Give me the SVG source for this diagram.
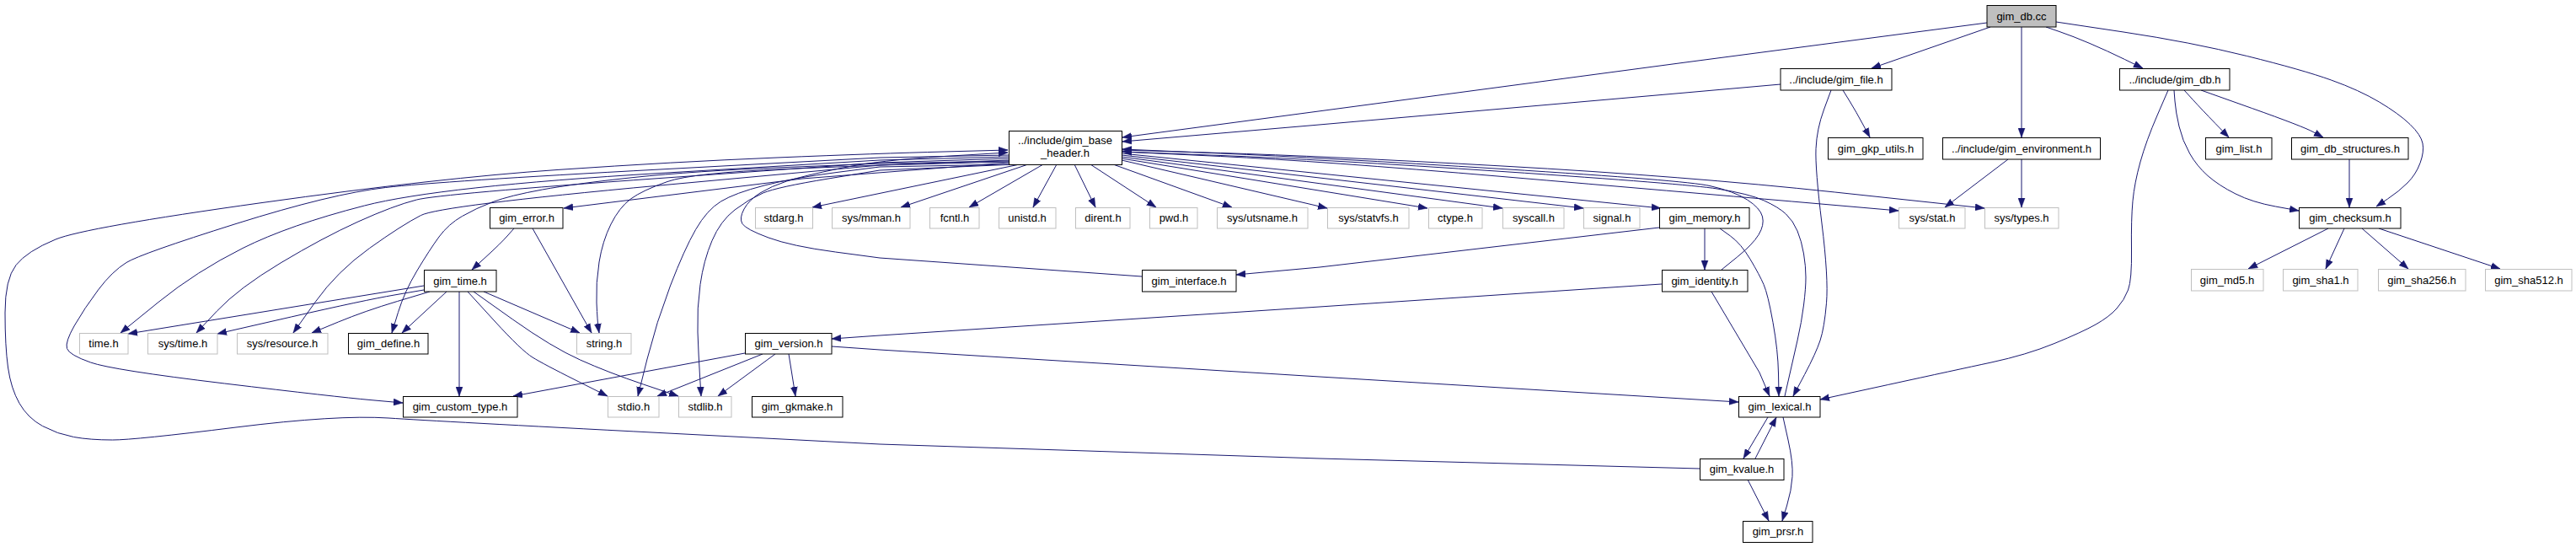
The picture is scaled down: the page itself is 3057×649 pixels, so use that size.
<svg xmlns="http://www.w3.org/2000/svg" width="3057" height="649" viewBox="0 0 3057 649">
<style>
.n rect{fill:#fff;stroke:#000;stroke-width:1}
.s rect{fill:#fff;stroke:#bfbfbf;stroke-width:1}
.r rect{fill:#bfbfbf;stroke:#000;stroke-width:1}
text{font-family:"Liberation Sans",Arial,sans-serif;font-size:13px;fill:#000;text-anchor:middle}
#edges path{fill:none;stroke:#191970;stroke-width:1;stroke-linejoin:round;marker-end:url(#ah)}
</style>
<defs>
<marker id="ah" markerUnits="userSpaceOnUse" markerWidth="12" markerHeight="9" refX="11" refY="4.5" orient="auto">
<path d="M0,0.5 L11,4.5 L0,8.5 z" fill="#191970" stroke="#191970" stroke-width="0.5"/>
</marker>
</defs>
<rect x="0" y="0" width="3057" height="649" fill="#fff"/>
<g id="edges">
<path d="M2358,27 L2000,74 L1332,163"/>
<path d="M2362,32 L2221,81"/>
<path d="M2399,32 L2399,163"/>
<path d="M2428,32 L2444,37.5 Q2460,43 2480,51.5 Q2500,60 2521.5,70.5 L2543,81"/>
<path d="M2440,26 L2520,38 Q2600,50 2666.5,66.5 Q2733,83 2766.5,95 Q2800,107 2823.5,121 Q2847,135 2860,147.5 Q2873,160 2875,170 Q2877,180 2872,193.5 Q2867,207 2857,217 Q2847,227 2833.5,236 L2820,245"/>
<path d="M2113,100 L2000,110 L1554,149 L1332,168"/>
<path d="M2187,107 L2195,120 Q2203,133 2211,148 L2219,163"/>
<path d="M2173,107 L2164.5,130 Q2156,153 2155,176.5 Q2154,200 2162,265 Q2170,330 2167.5,359.5 Q2165,389 2160,404 Q2155,419 2141.5,444.5 L2128,470"/>
<path d="M2383,189 L2308,246"/>
<path d="M2399,189 L2399,246"/>
<path d="M2592,107 L2602.5,118.5 Q2613,130 2629,146.5 L2645,163"/>
<path d="M2612,107 L2672.5,128.5 Q2733,150 2745,156.5 L2757,163"/>
<path d="M2580,107 L2581,120 Q2582,133 2586,150 Q2590,167 2598.5,182 Q2607,197 2620,208.5 Q2633,220 2653,230 Q2673,240 2700.5,245 L2728,250"/>
<path d="M2573,107 L2560,137 Q2547,167 2540,192 Q2533,217 2531,238.5 Q2529,260 2529.5,296 Q2530,332 2525.5,344 Q2521,356 2512,366 Q2503,376 2487,385 Q2471,394 2438,407.5 Q2405,421 2363,430 Q2321,439 2240.5,456.5 L2160,474"/>
<path d="M2788,189 L2788,246"/>
<path d="M2763,271 L2668,319"/>
<path d="M2782,271 L2760,319"/>
<path d="M2803,271 L2858,319"/>
<path d="M2823,271 L2967,319"/>
<path d="M1197,184 L1044,187 L783,201 Q522,215 457.5,222.5 Q393,230 280,265.5 Q167,301 150,311.5 Q133,322 116.5,344 Q100,366 88.5,386 Q77,406 79.5,413.5 Q82,421 107.5,430 Q133,439 266.5,455 Q400,471 439,474.5 L478,478"/>
<path d="M1197,186 L1044,190 L783,205.5 Q522,221 432.5,244 Q343,267 288,294.5 Q233,322 188,358.5 L143,395"/>
<path d="M1197,188 L1044,193 L783,211.5 Q522,230 494.5,237 Q467,244 425,263 Q383,282 333,312 Q283,342 258,368.5 L233,395"/>
<path d="M1197,190 L1044,196 L783,220 Q522,244 499.5,255.5 Q477,267 438.5,294.5 Q400,322 374,358.5 L348,395"/>
<path d="M1197,191 L1044,194 L933,198.5 Q822,203 752,210.5 Q682,218 643.5,225 Q605,232 585,239.5 Q565,247 548.5,256.5 Q532,266 521,281 Q510,296 495,321 Q480,346 472.5,370.5 L465,395"/>
<path d="M1197,193 L952,212 L669,247"/>
<path d="M1197,192 L1044,196 L933,200.5 Q822,205 792,215.5 Q762,226 748.5,236 Q735,246 725,266 Q715,286 711,311 Q707,336 708,359 Q709,382 710,388.5 L711,395"/>
<path d="M1198,195 L1044,198 L993,204.5 Q942,211 907,220 Q872,229 855.5,239 Q839,249 825.5,272.5 Q812,296 795.5,339 Q779,382 768,426 L757,470"/>
<path d="M1205,195 L1044,202 L983,212 Q922,222 905.5,229 Q889,236 872,249 Q855,262 845,285.5 Q835,309 831,337.5 Q827,366 828,394 Q829,422 830.5,446 L832,470"/>
<path d="M1210,195 L964,246"/>
<path d="M1220,195 L1069,246"/>
<path d="M1238,195 L1150,246"/>
<path d="M1254,195 L1226,246"/>
<path d="M1275,195 L1300,246"/>
<path d="M1294,195 L1372,246"/>
<path d="M1321,195 L1462,246"/>
<path d="M1331,190 L1575,247"/>
<path d="M1331,188 L1694,247"/>
<path d="M1331,186 L1783,247"/>
<path d="M1331,184 L1879,247"/>
<path d="M1331,182 L1971,247"/>
<path d="M1331,180 L1448.5,185.5 Q1566,191 1783,209.5 Q2000,228 2126.5,239 L2253,250"/>
<path d="M1331,178 L1448.5,181.5 Q1566,185 1783,197 Q2000,209 2177.5,228 L2355,247"/>
<path d="M2043,320 L2061.5,305 Q2080,290 2087,278.5 Q2094,267 2091.5,257 Q2089,247 2073.5,237 Q2058,227 2029,220.5 Q2000,214 1783,200.5 Q1566,187 1449,182 L1332,177"/>
<path d="M2118,470 L2128,426 L2133,404 Q2138,382 2140.5,362 Q2143,342 2143,329 Q2143,316 2140.5,301 Q2138,286 2133,274 Q2128,262 2119.5,254 Q2111,246 2093.5,238 Q2076,230 2038,224 Q2000,218 1783,203.5 Q1566,189 1449,184.5 L1332,180"/>
<path d="M2017,556 L1566,544 L1044,527 L783,513.5 Q522,500 461,496 Q400,492 280,507 Q160,522 133.5,522 Q107,522 87.5,518.5 Q68,515 50.5,505.5 Q33,496 23,478.5 Q13,461 9.5,436 Q6,411 6,371 Q6,331 19,314.5 Q32,298 66,284 Q100,270 311,240.5 Q522,211 661,201.5 Q800,192 922,187 Q1044,182 1120,180 L1196,178"/>
<path d="M1355,328 L1044,306 L991.5,299 Q939,292 912,282 Q885,272 881,265.5 Q877,259 883,248 Q889,237 902,229 Q915,221 933.5,215 Q952,209 998,199.5 Q1044,190 1120,185.5 L1196,181"/>
<path d="M610,271 L602,280 Q594,289 577,304.5 L560,320"/>
<path d="M632,271 L702,395"/>
<path d="M503,339 L152,396"/>
<path d="M503,344 L468,350 Q433,356 345.5,376 L258,396"/>
<path d="M510,346 L471.5,357.5 Q433,369 401.5,382 L370,395"/>
<path d="M530,346 L477,395"/>
<path d="M545,346 L545,470"/>
<path d="M574,346 L688,395"/>
<path d="M555,346 L587,381 Q619,416 632,424 Q645,432 683,451 L721,470"/>
<path d="M562,346 L608.5,379 Q655,412 688.5,427 Q722,442 763.5,456 L805,470"/>
<path d="M884,419 L609,470"/>
<path d="M905,420 L780,470"/>
<path d="M920,420 L852,470"/>
<path d="M936,420 L944,470"/>
<path d="M987,411 L1044,415 L1566,447 L2063,477"/>
<path d="M1972,337 L1566,364 L1044,398 L987,402"/>
<path d="M1969,270 L1566,317 L1467,326"/>
<path d="M2023,271 L2023,320"/>
<path d="M2041,271 L2053.5,280 Q2066,289 2077,307.5 Q2088,326 2093,337.5 Q2098,349 2104,382.5 Q2110,416 2110.5,443 L2111,470"/>
<path d="M2031,346 L2088,442 L2100,470"/>
<path d="M2098,495 L2069,544"/>
<path d="M2083,544 L2108,495"/>
<path d="M2116,495 L2122,522 Q2128,549 2127,565.5 Q2126,582 2120.5,600 L2115,618"/>
<path d="M2074,569 L2099,618"/>
</g>
<g id="gim_db_cc" class="r"><rect x="2358" y="6.5" width="82" height="25.5"/><text x="2399" y="24">gim_db.cc</text></g>
<g id="gim_file_h" class="n"><rect x="2113" y="81.5" width="132" height="25.5"/><text x="2179" y="99">../include/gim_file.h</text></g>
<g id="gim_db_h" class="n"><rect x="2515.5" y="81.5" width="130.5" height="25.5"/><text x="2581" y="99">../include/gim_db.h</text></g>
<g id="gim_base_header_h" class="n"><rect x="1197.5" y="155.5" width="134" height="40"/><text x="1264" y="171">../include/gim_base</text><text x="1264" y="186">_header.h</text></g>
<g id="gim_gkp_utils_h" class="n"><rect x="2169.5" y="163.5" width="112.5" height="25.5"/><text x="2226" y="181">gim_gkp_utils.h</text></g>
<g id="gim_environment_h" class="n"><rect x="2305.5" y="163.5" width="187" height="25.5"/><text x="2399" y="181">../include/gim_environment.h</text></g>
<g id="gim_list_h" class="n"><rect x="2617.5" y="163.5" width="78.5" height="25.5"/><text x="2657" y="181">gim_list.h</text></g>
<g id="gim_db_structures_h" class="n"><rect x="2719.5" y="163.5" width="138.5" height="25.5"/><text x="2789" y="181">gim_db_structures.h</text></g>
<g id="gim_error_h" class="n"><rect x="581.5" y="246.5" width="86.5" height="24.5"/><text x="625" y="263">gim_error.h</text></g>
<g id="stdarg_h" class="s"><rect x="896.5" y="246.5" width="68" height="24.5"/><text x="930" y="263">stdarg.h</text></g>
<g id="sys_mman_h" class="s"><rect x="987.5" y="246.5" width="92.5" height="24.5"/><text x="1034" y="263">sys/mman.h</text></g>
<g id="fcntl_h" class="s"><rect x="1103.5" y="246.5" width="58.5" height="24.5"/><text x="1133" y="263">fcntl.h</text></g>
<g id="unistd_h" class="s"><rect x="1185.5" y="246.5" width="67.5" height="24.5"/><text x="1219" y="263">unistd.h</text></g>
<g id="dirent_h" class="s"><rect x="1276.5" y="246.5" width="64.5" height="24.5"/><text x="1309" y="263">dirent.h</text></g>
<g id="pwd_h" class="s"><rect x="1364.5" y="246.5" width="56.5" height="24.5"/><text x="1393" y="263">pwd.h</text></g>
<g id="sys_utsname_h" class="s"><rect x="1444.5" y="246.5" width="107.5" height="24.5"/><text x="1498" y="263">sys/utsname.h</text></g>
<g id="sys_statvfs_h" class="s"><rect x="1575.5" y="246.5" width="96.5" height="24.5"/><text x="1624" y="263">sys/statvfs.h</text></g>
<g id="ctype_h" class="s"><rect x="1695.5" y="246.5" width="63.5" height="24.5"/><text x="1727" y="263">ctype.h</text></g>
<g id="syscall_h" class="s"><rect x="1783.5" y="246.5" width="72.5" height="24.5"/><text x="1820" y="263">syscall.h</text></g>
<g id="signal_h" class="s"><rect x="1879.5" y="246.5" width="66.5" height="24.5"/><text x="1913" y="263">signal.h</text></g>
<g id="gim_memory_h" class="n"><rect x="1969.5" y="246.5" width="106.5" height="24.5"/><text x="2023" y="263">gim_memory.h</text></g>
<g id="sys_stat_h" class="s"><rect x="2253.5" y="246.5" width="78.5" height="24.5"/><text x="2293" y="263">sys/stat.h</text></g>
<g id="sys_types_h" class="s"><rect x="2355.5" y="246.5" width="87.5" height="24.5"/><text x="2399" y="263">sys/types.h</text></g>
<g id="gim_checksum_h" class="n"><rect x="2728.5" y="246.5" width="120.5" height="24.5"/><text x="2789" y="263">gim_checksum.h</text></g>
<g id="gim_time_h" class="n"><rect x="503.5" y="320.5" width="85.5" height="25.5"/><text x="546" y="338">gim_time.h</text></g>
<g id="gim_interface_h" class="n"><rect x="1355.5" y="320.5" width="111.5" height="25.5"/><text x="1411" y="338">gim_interface.h</text></g>
<g id="gim_identity_h" class="n"><rect x="1972.5" y="320.5" width="101.5" height="25.5"/><text x="2023" y="338">gim_identity.h</text></g>
<g id="gim_md5_h" class="s"><rect x="2600.5" y="319.5" width="85.5" height="25.5"/><text x="2643" y="337">gim_md5.h</text></g>
<g id="gim_sha1_h" class="s"><rect x="2709.5" y="319.5" width="88.5" height="25.5"/><text x="2754" y="337">gim_sha1.h</text></g>
<g id="gim_sha256_h" class="s"><rect x="2822.5" y="319.5" width="103.5" height="25.5"/><text x="2874" y="337">gim_sha256.h</text></g>
<g id="gim_sha512_h" class="s"><rect x="2949.5" y="319.5" width="102.5" height="25.5"/><text x="3001" y="337">gim_sha512.h</text></g>
<g id="time_h" class="s"><rect x="94.5" y="395.5" width="57.5" height="24.5"/><text x="123" y="412">time.h</text></g>
<g id="sys_time_h" class="s"><rect x="175.5" y="395.5" width="82.5" height="24.5"/><text x="217" y="412">sys/time.h</text></g>
<g id="sys_resource_h" class="s"><rect x="281.5" y="395.5" width="107.5" height="24.5"/><text x="335" y="412">sys/resource.h</text></g>
<g id="gim_define_h" class="n"><rect x="413.5" y="395.5" width="94.5" height="24.5"/><text x="461" y="412">gim_define.h</text></g>
<g id="string_h" class="s"><rect x="684.5" y="395.5" width="64.5" height="24.5"/><text x="717" y="412">string.h</text></g>
<g id="gim_version_h" class="n"><rect x="884.5" y="395.5" width="102.5" height="24.5"/><text x="936" y="412">gim_version.h</text></g>
<g id="gim_custom_type_h" class="n"><rect x="478.5" y="470.5" width="135.5" height="24.5"/><text x="546" y="487">gim_custom_type.h</text></g>
<g id="stdio_h" class="s"><rect x="721.5" y="470.5" width="60.5" height="24.5"/><text x="752" y="487">stdio.h</text></g>
<g id="stdlib_h" class="s"><rect x="805.5" y="470.5" width="62.5" height="24.5"/><text x="837" y="487">stdlib.h</text></g>
<g id="gim_gkmake_h" class="n"><rect x="892.5" y="470.5" width="107.5" height="24.5"/><text x="946" y="487">gim_gkmake.h</text></g>
<g id="gim_lexical_h" class="n"><rect x="2063.5" y="470.5" width="96.5" height="24.5"/><text x="2112" y="487">gim_lexical.h</text></g>
<g id="gim_kvalue_h" class="n"><rect x="2017.5" y="544.5" width="99.5" height="25"/><text x="2067" y="561">gim_kvalue.h</text></g>
<g id="gim_prsr_h" class="n"><rect x="2068.5" y="618.5" width="82.5" height="25"/><text x="2110" y="635">gim_prsr.h</text></g>
</svg>
